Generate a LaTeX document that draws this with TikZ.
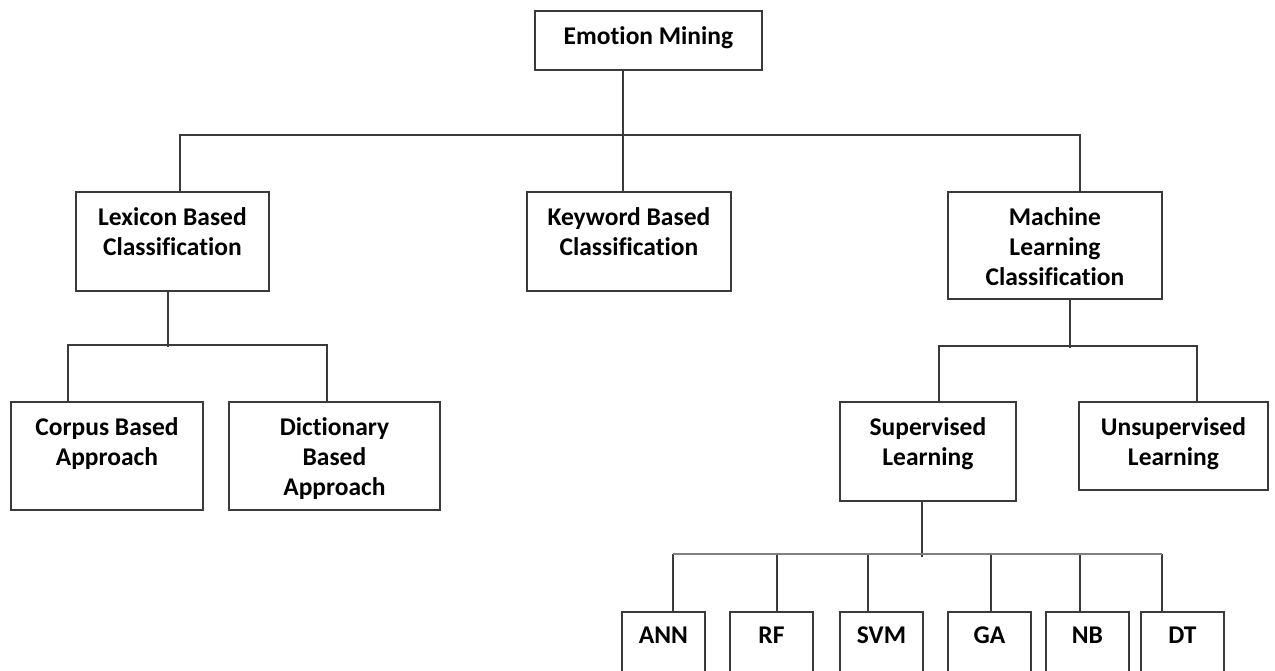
\documentclass[tikz,border=0pt]{standalone}
\usepackage{fontspec}
\setmainfont{Carlito}[Ligatures=NoCommon]

\definecolor{linegray}{HTML}{3A3A3A}
\definecolor{busgray}{HTML}{7F7F7F}

% box text: width, height, first baseline, text
\newcommand{\boxtext}[4]{\parbox[c][#2pt][t]{#1pt}{\centering\rule{0pt}{#3pt}#4}}

\begin{document}
\begin{tikzpicture}[x=1pt, y=-1pt,
  box/.style={draw=linegray, line width=1.9pt, fill=white, anchor=north west, inner sep=0pt,
    font=\fontsize{25.5}{30}\selectfont\bfseries},
  link/.style={draw=linegray, line width=1.9pt},
  buslink/.style={draw=busgray, line width=2.8pt}]
  \useasboundingbox[fill=white] (0,0) rectangle (1275,671);

  % Top level
  \node[box] (mining) at (534,10) {\boxtext{227}{59}{33.5}{Emotion Mining}};

  % Second level
  \node[box] (lexicon) at (75,191) {\boxtext{193}{99}{33.5}{Lexicon Based\\Classification}};
  \node[box] (keyword) at (526,191) {\boxtext{204}{99}{33.5}{Keyword Based\\Classification}};
  \node[box] (machine) at (947,191) {\boxtext{214}{107}{33.5}{Machine\\Learning\\Classification}};

  % Lexicon branch
  \node[box] (corpus) at (10,401) {\boxtext{192}{108}{33.5}{Corpus Based\\Approach}};
  \node[box] (dictionary) at (228,401) {\boxtext{211}{108}{33.5}{Dictionary\\Based\\Approach}};

  % Machine learning branch
  \node[box] (supervised) at (839,401) {\boxtext{176}{99}{33.5}{Supervised\\Learning}};
  \node[box] (unsupervised) at (1078,401) {\boxtext{189}{88}{33.5}{Unsupervised\\Learning}};

  % Supervised methods
  \node[box] (ann) at (621,611) {\boxtext{83}{90}{32}{ANN}};
  \node[box] (rf) at (729,611) {\boxtext{83}{90}{32}{RF}};
  \node[box] (svm) at (839,611) {\boxtext{83}{90}{32}{SVM}};
  \node[box] (ga) at (947,611) {\boxtext{83}{90}{32}{GA}};
  \node[box] (nb) at (1045,611) {\boxtext{83}{90}{32}{NB}};
  \node[box] (dt) at (1140,611) {\boxtext{83}{90}{32}{DT}};

  % Connectors, level 1
  \draw[link] ([xshift=-25.5pt]mining.south) -- ++(0,66);
  \draw[link] ([xshift=7.5pt]lexicon.north) -- ++(0,-56) -| ([xshift=25pt]machine.north);
  \draw[link] ([xshift=-6pt]keyword.north) -- ++(0,-56);

  % Connectors, lexicon
  \draw[link] ([xshift=-4.5pt]lexicon.south) -- ++(0,55);
  \draw[link] ([xshift=-39pt]corpus.north) -- ++(0,-56) -| ([xshift=-7.5pt]dictionary.north);

  % Connectors, machine learning
  \draw[link] ([xshift=15pt]machine.south) -- ++(0,48);
  \draw[link] ([xshift=11pt]supervised.north) -- ++(0,-55) -| ([xshift=23.5pt]unsupervised.north);

  % Connectors, supervised
  \draw[link] ([xshift=-6pt]supervised.south) -- ++(0,55);
  \draw[link] ([xshift=9.5pt]ann.north) -- ++(0,-57);
  \draw[link] ([xshift=5.5pt]rf.north) -- ++(0,-57);
  \draw[link] ([xshift=-13.5pt]svm.north) -- ++(0,-57);
  \draw[link] ([xshift=1.5pt]ga.north) -- ++(0,-57);
  \draw[link] ([xshift=-7.5pt]nb.north) -- ++(0,-57);
  \draw[link] ([xshift=-20.5pt]dt.north) -- ++(0,-57);
  \draw[buslink] ([xshift=9.5pt,yshift=57pt]ann.north) -- ([xshift=-20.5pt,yshift=57pt]dt.north);
\end{tikzpicture}
\end{document}
